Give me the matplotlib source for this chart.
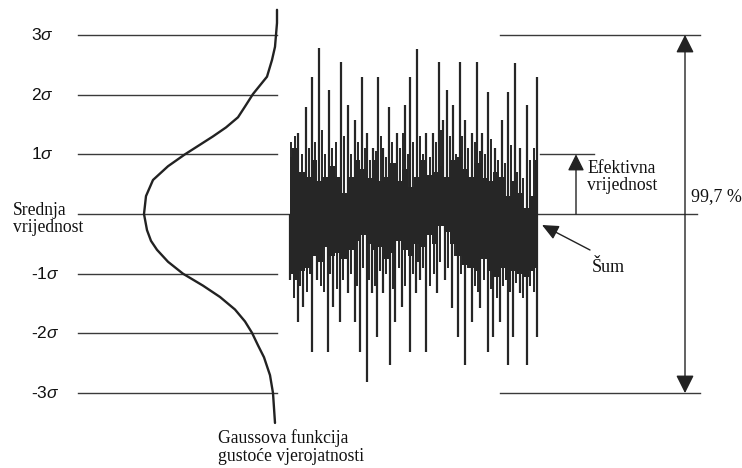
import numpy as np
import matplotlib
matplotlib.use("Agg")
import matplotlib.pyplot as plt

plt.rcParams['mathtext.fontset'] = 'custom'
plt.rcParams['mathtext.it'] = 'Liberation Sans:italic'
plt.rcParams['mathtext.rm'] = 'Liberation Sans'

# ---- data ----
sigma_levels = [3, 2, 1, 0, -1, -2, -3]
sigma_labels = ["3$\\sigma$", "2$\\sigma$", "1$\\sigma$", None, "-1$\\sigma$", "-2$\\sigma$", "-3$\\sigma$"]

# Gaussian density curve (sigma level, horizontal position)
gauss_sigma = [3.42, 3.2, 3.0, 2.8, 2.58, 2.3, 2.01, 1.8, 1.62, 1.45, 1.3, 1.15, 1.0, 0.8,
               0.57, 0.3, 0.0, -0.27, -0.45, -0.6, -0.8, -1.0, -1.2, -1.39, -1.6, -1.8,
               -1.99, -2.2, -2.4, -2.7, -3.0, -3.5]
gauss_x = [277, 277, 276, 275, 272, 267, 253, 245, 238, 226, 213, 199, 185, 168,
           153, 146, 144, 147, 151, 157, 168, 183, 203, 220, 235, 245,
           252, 258, 264, 270, 273, 275]

# noise: tall positive spikes (time position, amplitude in sigma)
up_t = [293, 298, 306, 312, 319, 329, 341, 348, 355, 362, 367, 373, 378, 383, 389, 397, 405,
        410, 417, 426, 433, 439, 443, 447, 453, 460, 465, 472, 477, 482, 488, 495, 502, 508,
        515, 520, 527, 537]
up_v = [1.1, 1.36, 1.79, 2.29, 2.78, 2.08, 2.55, 1.83, 1.57, 2.29, 1.36, 1.1, 2.29, 1.1, 1.79,
        1.36, 1.83, 2.29, 2.76, 1.36, 1.36, 2.55, 1.57, 2.08, 1.83, 2.55, 1.57, 1.36, 2.55, 1.36,
        2.04, 1.1, 1.57, 2.04, 2.53, 1.1, 1.83, 2.29]
# negative spikes
dn_t = [290, 298, 303, 312, 317, 328, 333, 340, 348, 355, 360, 367, 372, 377, 383, 390, 395,
        402, 410, 416, 420, 426, 437, 445, 452, 458, 465, 472, 480, 488, 493, 500, 508, 513,
        520, 527, 537]
dn_v = [-1.1, -1.81, -1.56, -2.31, -1.1, -2.31, -1.56, -1.81, -1.33, -1.81, -2.31, -2.81, -1.33,
        -2.06, -1.33, -2.53, -1.81, -1.56, -2.31, -1.33, -1.1, -2.31, -1.33, -1.1, -1.58, -2.06,
        -2.53, -1.81, -1.58, -2.31, -2.06, -1.81, -2.53, -2.06, -1.33, -2.53, -2.06]
# medium-height lines
mid_up_t = [291, 295, 302, 309, 315, 322, 325, 332, 336, 344, 351, 358, 365, 370, 376, 381,
            386, 392, 400, 403, 408, 413, 420, 423, 430, 436, 441, 450, 456, 462, 468, 475,
            480, 485, 491, 498, 505, 511, 517, 523, 530, 534]
mid_up_v = [1.2, 1.3, 1.0, 1.1, 1.2, 1.4, 1.0, 1.1, 1.2, 1.3, 1.0, 1.2, 1.1, 0.9, 1.05, 1.3,
            0.95, 1.2, 1.1, 1.35, 1.0, 1.2, 1.3, 1.0, 0.95, 1.2, 1.4, 1.3, 1.0, 1.3, 1.1, 1.2,
            1.05, 1.0, 1.25, 0.9, 0.85, 1.15, 0.7, 0.6, 0.9, 1.1]
mid_dn_t = [294, 300, 307, 310, 321, 324, 330, 337, 343, 351, 357, 363, 369, 375, 380, 386,
            393, 399, 405, 413, 418, 423, 430, 434, 440, 448, 455, 461, 468, 475, 478, 484,
            491, 497, 503, 510, 516, 523, 530, 534]
mid_dn_v = [-1.4, -1.2, -1.3, -1.0, -1.2, -1.3, -1.0, -1.25, -1.1, -1.0, -1.2, -0.9, -1.1,
            -1.2, -0.95, -1.0, -1.25, -0.9, -1.2, -1.0, -0.8, -0.9, -1.2, -1.0, -0.8, -0.9,
            -0.7, -1.0, -0.9, -1.2, -1.3, -1.1, -1.25, -1.4, -1.2, -1.3, -1.15, -1.4, -1.2, -1.3]
# dense core envelope
core_top = [0.95, 1.1, 0.7, 0.62, 0.9, 0.55, 0.62, 0.8, 0.62, 0.35, 0.62, 0.9, 0.75, 0.6,
            0.9, 0.55, 0.62, 0.85, 0.55, 0.75, 0.45, 0.62, 0.9, 0.65, 0.7, 0.8, 0.62, 0.9,
            0.95, 0.75, 0.62, 0.85, 0.6, 0.55, 0.7, 0.62, 0.3, 0.55, 0.35, 0.1, 0.3, 0.9]
core_bottom = [-1.0, -1.1, -0.95, -0.9, -0.7, -0.8, -0.55, -0.7, -0.65, -0.75, -0.6, -0.45,
               -0.35, -0.5, -0.6, -0.55, -0.75, -0.65, -0.45, -0.6, -0.7, -0.5, -0.55, -0.35,
               -0.5, -0.2, -0.3, -0.5, -0.7, -0.85, -0.9, -0.95, -0.75, -0.95, -1.05, -0.9,
               -1.1, -0.95, -1.0, -1.05, -0.95, -0.9]

# ---- figure ----
W, H = 742, 468
fig = plt.figure(figsize=(W / 100, H / 100), dpi=100)
ax = fig.add_axes([0, 0, 1, 1])
px_per_sigma = 59.7
y0_px = 214
ax.set_xlim(0, W)
ax.set_ylim((y0_px - H) / px_per_sigma, y0_px / px_per_sigma)
ax.axis('off')


def ypx(p):
    return (y0_px - p) / px_per_sigma


lc = '#3a3a3a'
tc = '#111111'
serif = 'Liberation Serif'
fs_serif = 12.7

# left horizontal lines + labels
for lev, lab in zip(sigma_levels, sigma_labels):
    if lev == 0:
        ax.plot([78, 697], [0, 0], color=lc, lw=1.0, zorder=1)
    else:
        ax.plot([78, 277], [lev, lev], color=lc, lw=1.0, zorder=1)
    if lab:
        ax.text(31, lev, lab, fontsize=12.5, family='Liberation Sans', ha='left', va='center',
                color=tc)

ax.text(13, ypx(219), "Srednja\nvrijednost", fontsize=fs_serif, family=serif,
        ha='left', va='center', linespacing=0.98, color=tc)

# right lines
ax.plot([500, 700], [3, 3], color=lc, lw=1.0, zorder=1)
ax.plot([500, 700], [-3, -3], color=lc, lw=1.0, zorder=1)
ax.plot([540, 594], [1, 1], color=lc, lw=1.0, zorder=1)

# gaussian curve
ax.plot(gauss_x, gauss_sigma, color='#222', lw=1.7, solid_capstyle='round',
        solid_joinstyle='round', zorder=2)

# noise
core_x = np.linspace(290, 538, len(core_top))
nc = '#262626'
ax.fill_between(core_x, core_bottom, core_top, step='mid', color=nc, lw=0, zorder=3)
ax.vlines(mid_up_t, 0, mid_up_v, color=nc, lw=1.4, zorder=3)
ax.vlines(mid_dn_t, 0, mid_dn_v, color=nc, lw=1.4, zorder=3)
ax.vlines(up_t, 0, up_v, color=nc, lw=1.6, zorder=3)
ax.vlines(dn_t, 0, dn_v, color=nc, lw=1.6, zorder=3)

# arrows
ax.annotate('', xy=(576, 1), xytext=(576, 0),
            arrowprops=dict(arrowstyle='-|>,head_length=1.0,head_width=0.5', color='#222',
                            lw=1.0, shrinkA=0, shrinkB=0, mutation_scale=10))
ax.annotate('', xy=(685, 3), xytext=(685, -3),
            arrowprops=dict(arrowstyle='<|-|>,head_length=1.1,head_width=0.55', color='#222',
                            lw=1.0, shrinkA=0, shrinkB=0, mutation_scale=10))
ax.annotate('', xy=(542, ypx(225)), xytext=(590, ypx(250)),
            arrowprops=dict(arrowstyle='-|>,head_length=1.0,head_width=0.45', color='#222',
                            lw=1.0, shrinkA=0, shrinkB=0, mutation_scale=10))

ax.text(587, ypx(177), "Efektivna\nvrijednost", fontsize=fs_serif, family=serif,
        ha='left', va='center', linespacing=1.05, color=tc)
ax.text(691, ypx(197), "99,7 %", fontsize=13, family=serif,
        ha='left', va='center', color=tc)
ax.text(592, ypx(268), "Šum", fontsize=13, family=serif,
        ha='left', va='center', color=tc)
ax.text(218, ypx(447), "Gaussova funkcija\ngustoće vjerojatnosti",
        fontsize=fs_serif, family=serif, ha='left', va='center', linespacing=1.05, color=tc)

fig.savefig('out.png', dpi=100)
